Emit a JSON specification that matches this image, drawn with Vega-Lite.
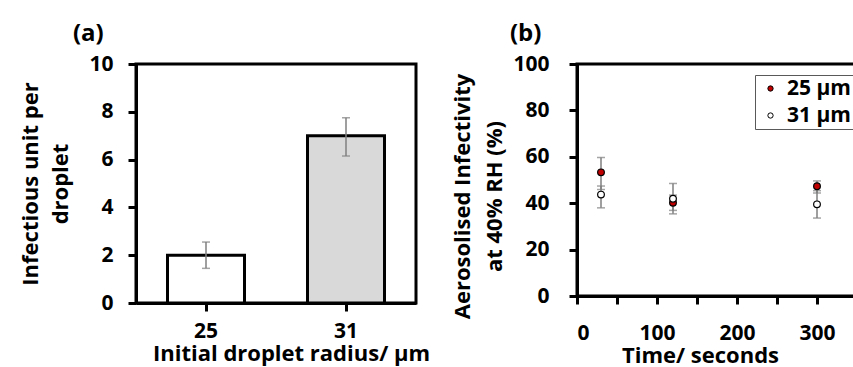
{
  "$schema": "https://vega.github.io/schema/vega-lite/v6.json",
  "padding": {"left": 18, "top": 20, "right": 0, "bottom": 0},
  "spacing": 16,
  "background": "white",
  "config": {
    "font": "Open Sans",
    "view": {"stroke": "black", "strokeWidth": 3},
    "axis": {
      "domainColor": "black", "domainWidth": 3, "tickColor": "black", "tickWidth": 3, "tickSize": 8,
      "labelFont": "Open Sans", "labelFontWeight": "bold", "labelFontSize": 21, "labelColor": "black",
      "titleFont": "Open Sans", "titleFontWeight": "bold", "titleFontSize": 22, "titleColor": "black",
      "grid": false
    },
    "title": {"fontSize": 24, "fontWeight": "bold", "color": "black", "anchor": "start", "frame": "bounds", "font": "Open Sans"}
  },
  "resolve": {"scale": {"fill": "independent"}, "legend": {"fill": "independent"}},
  "hconcat": [
    {
      "width": 280,
      "height": 239,
      "title": {"text": "(a)", "dx": 53, "offset": 7},
      "data": {"values": [
        {"radius": "25", "value": 2.0, "lo": 1.45, "hi": 2.55},
        {"radius": "31", "value": 7.0, "lo": 6.15, "hi": 7.75}
      ]},
      "encoding": {
        "x": {"field": "radius", "type": "nominal",
          "scale": {"paddingInner": 0.45, "paddingOuter": 0.225},
          "axis": {"title": "Initial droplet radius/  µm", "labelAngle": 0, "labelPadding": 9, "titlePadding": 2, "titleX": 155}}
      },
      "layer": [
        {
          "mark": {"type": "bar", "stroke": "black", "strokeWidth": 3},
          "encoding": {
            "y": {"field": "value", "type": "quantitative", "scale": {"domain": [0, 10]},
              "axis": {"values": [0, 2, 4, 6, 8, 10], "title": ["Infectious unit per", "droplet"], "titleLineHeight": 30, "labelPadding": 15, "titlePadding": 16}},
            "fill": {"field": "radius", "type": "nominal", "scale": {"range": ["white", "#d9d9d9"]}, "legend": null}
          }
        },
        {
          "mark": {"type": "rule", "color": "#7f7f7f", "strokeWidth": 1.5},
          "encoding": {
            "y": {"field": "lo", "type": "quantitative", "axis": {"title": ["Infectious unit per", "droplet"]}},
            "y2": {"field": "hi"}
          }
        },
        {
          "mark": {"type": "tick", "color": "#7f7f7f", "thickness": 1.5, "size": 8},
          "encoding": {"y": {"field": "lo", "type": "quantitative", "axis": {"title": ["Infectious unit per", "droplet"]}}}
        },
        {
          "mark": {"type": "tick", "color": "#7f7f7f", "thickness": 1.5, "size": 8},
          "encoding": {"y": {"field": "hi", "type": "quantitative", "axis": {"title": ["Infectious unit per", "droplet"]}}}
        }
      ]
    },
    {
      "width": 280,
      "height": 232,
      "title": {"text": "(b)", "dx": 58, "offset": 7},
      "data": {"values": [
        {"t": 30, "series": "25 µm", "v": 53.3, "lo": 45.9, "hi": 59.7},
        {"t": 30, "series": "31 µm", "v": 43.7, "lo": 38.0, "hi": 47.4},
        {"t": 120, "series": "25 µm", "v": 40.2, "lo": 36.9, "hi": 43.5},
        {"t": 120, "series": "31 µm", "v": 41.9, "lo": 35.4, "hi": 48.5},
        {"t": 300, "series": "25 µm", "v": 47.3, "lo": 44.4, "hi": 49.6},
        {"t": 300, "series": "31 µm", "v": 39.5, "lo": 33.6, "hi": 45.4}
      ]},
      "encoding": {
        "x": {"field": "t", "type": "quantitative", "scale": {"domain": [0, 350]},
          "axis": {"title": "Time/ seconds", "values": [0, 50, 100, 150, 200, 250, 300, 350],
            "labelExpr": "datum.value % 100 == 0 ? datum.label : ''", "labelPadding": 18, "titlePadding": 2, "titleX": 123}}
      },
      "layer": [
        {
          "mark": {"type": "rule", "color": "#7f7f7f", "strokeWidth": 1.5},
          "encoding": {
            "y": {"field": "lo", "type": "quantitative", "scale": {"domain": [0, 100]},
              "axis": {"values": [0, 20, 40, 60, 80, 100], "title": ["Aerosolised Infectivity", "at 40% RH (%)"], "titleLineHeight": 32, "labelPadding": 20, "titlePadding": 6, "titleY": 132}},
            "y2": {"field": "hi"}
          }
        },
        {
          "mark": {"type": "tick", "color": "#7f7f7f", "thickness": 1.5, "size": 8, "orient": "horizontal"},
          "encoding": {"y": {"field": "lo", "type": "quantitative"}}
        },
        {
          "mark": {"type": "tick", "color": "#7f7f7f", "thickness": 1.5, "size": 8, "orient": "horizontal"},
          "encoding": {"y": {"field": "hi", "type": "quantitative"}}
        },
        {
          "mark": {"type": "point", "shape": "circle", "filled": true, "size": 45, "stroke": "black", "strokeWidth": 1.2, "opacity": 1},
          "encoding": {
            "y": {"field": "v", "type": "quantitative"},
            "fill": {"field": "series", "type": "nominal",
              "scale": {"domain": ["25 µm", "31 µm"], "range": ["#c00000", "white"]},
              "legend": {"title": null, "orient": "none", "legendX": 178, "legendY": 11,
                "strokeColor": "#595959", "fillColor": "white", "padding": 3,
                "labelFont": "Open Sans", "labelFontWeight": "bold", "labelFontSize": 21, "labelColor": "black",
                "symbolType": "circle", "symbolSize": 28, "symbolStrokeColor": "black", "symbolStrokeWidth": 1,
                "rowPadding": 5, "labelOffset": 6, "symbolOffset": 2}}
          }
        }
      ]
    }
  ]
}
